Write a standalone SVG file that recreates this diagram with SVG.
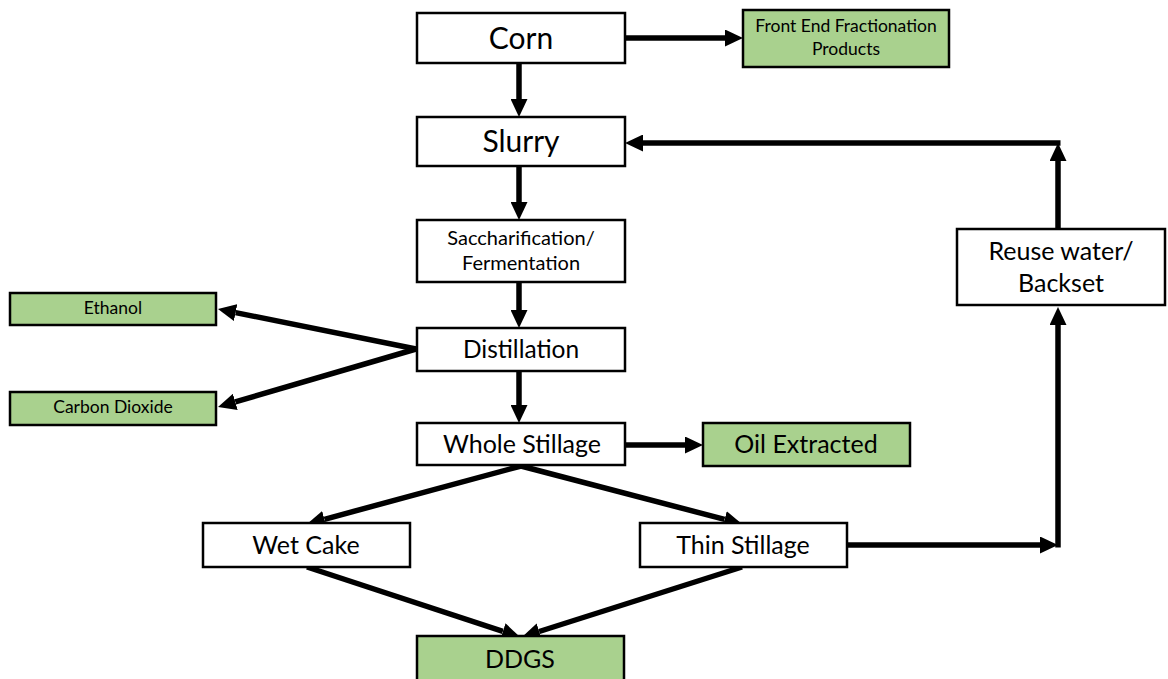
<svg xmlns="http://www.w3.org/2000/svg" width="1168" height="679" viewBox="0 0 1168 679">
<style>
.box{fill:#fff;stroke:#000;stroke-width:2.5}
.grn{fill:#A9D18E;stroke:#000;stroke-width:2.5}
.t{font-family:Lato,"Open Sans","Liberation Sans",sans-serif;fill:#000;text-anchor:middle;dominant-baseline:central}
.c{fill:none;stroke:#000;stroke-width:5.5}
</style>
<defs>
<marker id="ah" markerUnits="userSpaceOnUse" markerWidth="18" markerHeight="17" viewBox="0 0 18 17" refX="0" refY="8.5" orient="auto">
<path d="M0,0 L18,8.5 L0,17 z" fill="#000"/>
</marker>
</defs>
<rect width="1168" height="679" fill="#fff"/>
<g id="connectors">
<path class="c" d="M519,64 V99" marker-end="url(#ah)"/>
<path class="c" d="M519,167 V202" marker-end="url(#ah)"/>
<path class="c" d="M519,283 V310" marker-end="url(#ah)"/>
<path class="c" d="M519,372 V405" marker-end="url(#ah)"/>
<path class="c" d="M626,38 H725" marker-end="url(#ah)"/>
<path class="c" d="M626,445 H685" marker-end="url(#ah)"/>
<path class="c" d="M416,349 L235.6,312.6" marker-end="url(#ah)"/>
<path class="c" d="M416,349 L235.3,401.9" marker-end="url(#ah)"/>
<path class="c" d="M521,466 L324.4,519.3" marker-end="url(#ah)"/>
<path class="c" d="M521,466 L724.6,519.4" marker-end="url(#ah)"/>
<path class="c" d="M307,567 L502.9,631.4" marker-end="url(#ah)"/>
<path class="c" d="M742,567 L539.2,631.5" marker-end="url(#ah)"/>
<path class="c" d="M848,545 H1040" marker-end="url(#ah)"/>
<path class="c" d="M1058,547.5 V325" marker-end="url(#ah)"/>
<path class="c" d="M1058,228 V161" marker-end="url(#ah)"/>
<path class="c" d="M1060.5,143 H643" marker-end="url(#ah)"/>
</g>
<g id="corn"><rect class="box" x="417" y="13" width="208" height="50"/><text class="t" x="521" y="37" font-size="30">Corn</text></g>
<g id="fef"><rect class="grn" x="743" y="10" width="206" height="57"/><text class="t" x="846" y="25" font-size="17.5">Front End Fractionation</text><text class="t" x="846" y="48" font-size="17.5">Products</text></g>
<g id="slurry"><rect class="box" x="417" y="117" width="208" height="49"/><text class="t" x="521" y="140" font-size="30">Slurry</text></g>
<g id="sacch"><rect class="box" x="417" y="220" width="208" height="62"/><text class="t" x="521" y="237" font-size="20">Saccharification/</text><text class="t" x="521" y="262" font-size="20">Fermentation</text></g>
<g id="distillation"><rect class="box" x="417" y="328" width="208" height="43"/><text class="t" x="521" y="348" font-size="24.5">Distillation</text></g>
<g id="ethanol"><rect class="grn" x="10" y="293" width="206" height="32"/><text class="t" x="113" y="307" font-size="17.5">Ethanol</text></g>
<g id="co2"><rect class="grn" x="10" y="392" width="206" height="33"/><text class="t" x="113" y="406" font-size="17.5">Carbon Dioxide</text></g>
<g id="wholestillage"><rect class="box" x="417" y="423" width="208" height="42"/><text class="t" x="522" y="443" font-size="25">Whole Stillage</text></g>
<g id="oil"><rect class="grn" x="703" y="423" width="207" height="43"/><text class="t" x="806" y="443" font-size="25">Oil Extracted</text></g>
<g id="wetcake"><rect class="box" x="203" y="523" width="207" height="44"/><text class="t" x="306" y="544" font-size="25">Wet Cake</text></g>
<g id="thinstillage"><rect class="box" x="640" y="523" width="207" height="44"/><text class="t" x="743" y="544" font-size="25">Thin Stillage</text></g>
<g id="ddgs"><rect class="grn" x="417" y="636" width="207" height="46"/><text class="t" x="520" y="658" font-size="25">DDGS</text></g>
<g id="reuse"><rect class="box" x="957" y="229" width="208" height="76"/><text class="t" x="1061" y="250" font-size="25">Reuse water/</text><text class="t" x="1061" y="282" font-size="25">Backset</text></g>
</svg>
